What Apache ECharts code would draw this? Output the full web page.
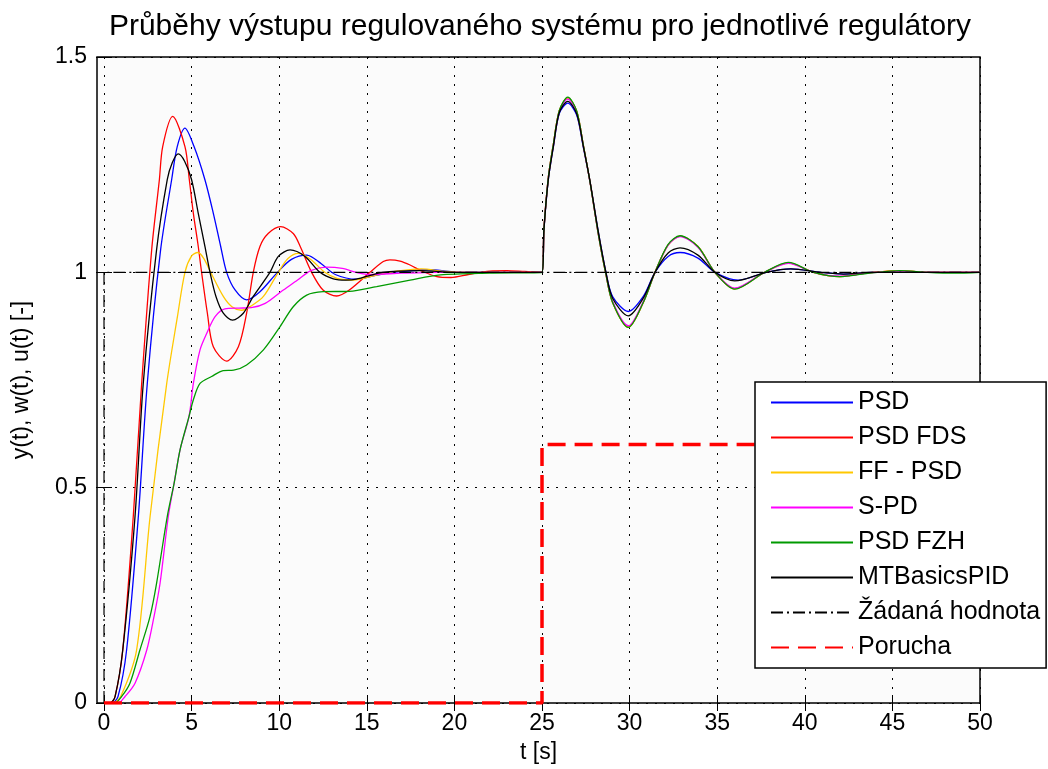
<!DOCTYPE html>
<html>
<head>
<meta charset="utf-8">
<script src="https://cdn.jsdelivr.net/npm/echarts@6/dist/echarts.min.js"></script>
<style>html,body{margin:0;padding:0;background:#fff;}#chart{width:1048px;height:769px;}</style>
</head>
<body>
<div id="chart"></div>
<script>
const titleText = 'Průběhy výstupu regulovaného systému pro jednotlivé regulátory';
const xTicks = [0, 5, 10, 15, 20, 25, 30, 35, 40, 45, 50];
const yTicks = [0, 0.5, 1, 1.5];
const seriesNames = ['PSD', 'PSD FDS', 'FF - PSD', 'S-PD', 'PSD FZH', 'MTBasicsPID', 'Žádaná hodnota', 'Porucha'];

const psd = [[0,0],[0.45,0],[0.8,0.015],[1.29,0.123],[1.96,0.433],[2.47,0.742],[3.23,1.052],[3.86,1.215],[4.18,1.292],[4.62,1.335],[5.14,1.292],[5.76,1.215],[6.24,1.137],[6.66,1.06],[7.0,1.0],[7.48,0.959],[8.14,0.936],[8.9,0.955],[9.9,1.0],[10.7,1.03],[11.57,1.04],[12.4,1.02],[13.2,0.995],[14.42,0.984],[15.5,0.993],[16.5,1.0],[18.5,1.006],[20.5,1.0],[25,1.0],
  [25.11,1.098],[25.36,1.215],[25.65,1.292],[25.99,1.369],[26.47,1.393],[26.98,1.365],[27.36,1.29],[27.74,1.21],[28.21,1.095],[28.65,1.0],[29.03,0.944],[29.93,0.909],[30.78,0.944],[31.45,1.0],[32.2,1.037],[32.88,1.046],[33.9,1.033],[34.87,1.0],[36.2,0.982],[37.8,1.0],[39.2,1.008],[40.9,1.0],[42.2,0.996],[43.8,1.0],[45.4,1.001],[47,1.0],[50,1.0]];

const psdFds = [[0,0],[0.35,0],[0.63,0.015],[1.07,0.123],[1.67,0.433],[2.15,0.742],[2.72,1.052],[3.16,1.215],[3.35,1.292],[3.92,1.362],[4.62,1.292],[4.87,1.215],[5.1,1.137],[5.38,1.06],[5.57,1.0],[5.9,0.905],[6.24,0.827],[7.0,0.794],[7.67,0.827],[8.14,0.905],[8.52,1.0],[8.9,1.06],[9.37,1.09],[10.08,1.106],[10.8,1.09],[11.2,1.06],[11.85,1.0],[12.5,0.959],[13.28,0.945],[14.0,0.959],[15.18,1.0],[15.94,1.025],[16.32,1.029],[16.9,1.026],[17.47,1.017],[18.2,1.002],[19.0,0.99],[19.8,0.988],[20.8,0.995],[22.0,1.003],[23.0,1.004],[24.0,1.002],[25,1.0],
  [25.11,1.1],[25.36,1.22],[25.65,1.298],[25.99,1.376],[26.47,1.405],[26.98,1.374],[27.36,1.295],[27.74,1.21],[28.21,1.09],[28.65,0.995],[29.03,0.93],[29.93,0.873],[30.78,0.93],[31.45,1.0],[32.2,1.064],[32.88,1.084],[33.9,1.06],[34.87,1.0],[36.0,0.962],[37.7,1.0],[39.06,1.022],[40.5,1.0],[42.0,0.99],[43.5,0.998],[45.4,1.004],[47,1.0],[50,1.0]];

const ffPsd = [[0,0],[0.5,0],[0.95,0.015],[1.86,0.123],[2.63,0.433],[3.58,0.742],[4.19,0.897],[4.62,1.0],[5.0,1.038],[5.35,1.046],[5.7,1.032],[6.09,1.0],[6.81,0.944],[7.3,0.92],[7.85,0.912],[8.4,0.922],[9.1,0.944],[9.95,1.0],[10.5,1.032],[11.09,1.044],[11.8,1.03],[12.6,1.0],[13.3,0.986],[14.23,0.982],[15.4,0.992],[16.6,1.002],[18.1,1.008],[19.5,1.002],[21,1.0],[25,1.0],
  [25.11,1.1],[25.36,1.22],[25.65,1.298],[25.99,1.376],[26.47,1.405],[26.98,1.374],[27.36,1.295],[27.74,1.21],[28.21,1.09],[28.65,0.995],[29.03,0.93],[29.93,0.872],[30.78,0.93],[31.45,1.0],[32.2,1.064],[32.88,1.084],[33.9,1.06],[34.87,1.0],[36.0,0.961],[37.7,1.0],[39.06,1.022],[40.5,1.0],[42.0,0.99],[43.5,0.998],[45.4,1.004],[47,1.0],[50,1.0]];

const sPd = [[0,0],[0.8,0],[1.2,0.015],[1.77,0.046],[2.44,0.123],[2.85,0.2],[3.2,0.278],[3.67,0.433],[4.0,0.51],[4.34,0.588],[4.85,0.665],[5.1,0.742],[5.48,0.82],[5.86,0.858],[6.34,0.897],[6.9,0.915],[7.7,0.917],[8.4,0.918],[9.2,0.928],[10.1,0.955],[11.05,0.982],[11.8,1.004],[12.7,1.012],[13.6,1.009],[14.5,0.999],[15.2,0.995],[17,0.998],[19,1.0],[25,1.0],
  [25.11,1.1],[25.36,1.22],[25.65,1.296],[25.99,1.374],[26.47,1.402],[26.98,1.372],[27.36,1.294],[27.74,1.21],[28.21,1.09],[28.65,0.996],[29.03,0.932],[29.93,0.876],[30.78,0.932],[31.45,1.0],[32.2,1.063],[32.88,1.083],[33.9,1.058],[34.87,1.0],[36.0,0.963],[37.7,1.0],[39.06,1.021],[40.5,1.0],[42.0,0.991],[43.5,0.998],[45.4,1.003],[47,1.0],[50,1.0]];

const psdFzh = [[0,0],[0.6,0],[1.0,0.015],[1.48,0.046],[2.05,0.123],[2.62,0.2],[3.0,0.278],[3.61,0.433],[4.0,0.51],[4.34,0.588],[4.85,0.665],[5.1,0.704],[5.48,0.742],[6.14,0.758],[6.8,0.772],[7.4,0.773],[8.14,0.785],[9.1,0.82],[10.05,0.874],[10.8,0.92],[11.57,0.947],[12.5,0.955],[14.0,0.956],[15.56,0.967],[17.47,0.982],[19.2,0.994],[22,0.998],[25,1.0],
  [25.11,1.1],[25.36,1.22],[25.65,1.298],[25.99,1.376],[26.47,1.407],[26.98,1.375],[27.36,1.295],[27.74,1.21],[28.21,1.09],[28.65,0.995],[29.03,0.93],[29.93,0.872],[30.78,0.93],[31.45,1.0],[32.2,1.065],[32.88,1.085],[33.9,1.06],[34.87,1.0],[36.0,0.961],[37.7,1.0],[39.06,1.023],[40.5,1.0],[42.0,0.99],[43.5,0.997],[45.4,1.004],[47,1.0],[48.5,0.998],[50,1.0]];

const mtBasics = [[0,0],[0.34,0],[0.63,0.015],[1.07,0.123],[1.77,0.433],[2.24,0.742],[3.0,1.052],[3.61,1.215],[3.9,1.255],[4.24,1.275],[4.6,1.258],[5.0,1.215],[5.38,1.137],[5.76,1.06],[6.05,1.0],[6.39,0.944],[6.81,0.905],[7.34,0.889],[7.95,0.905],[8.52,0.944],[9.47,1.0],[9.95,1.037],[10.62,1.052],[11.47,1.037],[12.33,1.0],[13.09,0.985],[13.8,0.982],[14.4,0.984],[15.9,1.0],[18.0,1.004],[20,1.0],[25,1.0],
  [25.11,1.098],[25.36,1.215],[25.65,1.292],[25.99,1.371],[26.47,1.397],[26.98,1.368],[27.36,1.292],[27.74,1.212],[28.21,1.095],[28.65,1.0],[29.03,0.94],[29.93,0.899],[30.78,0.94],[31.45,1.0],[32.2,1.045],[32.88,1.057],[33.9,1.04],[34.87,1.0],[36.0,0.98],[37.8,1.0],[39.2,1.008],[40.9,1.0],[42.2,0.996],[43.8,1.0],[47,1.0],[50,1.0]];

const setpoint = [[0,0],[0,1],[50,1]];
const disturbance = [[0,0],[25,0],[25,0.6],[50,0.6]];

const FONT = '"Liberation Sans", Arial, Helvetica, sans-serif';

function curve(name, data, color, width) {
  return {
    name: name, type: 'line', data: data, showSymbol: false, symbol: 'none',
    smooth: 0.3, clip: true,
    lineStyle: { color: color, width: width }, itemStyle: { color: color },
    emphasis: { disabled: true }
  };
}

const chart = echarts.init(document.getElementById('chart'), null, { renderer: 'canvas' });
const option = {
  backgroundColor: '#ffffff',
  animation: false,
  title: {
    text: titleText, left: 535, textAlign: 'center', top: 7,
    textStyle: { fontFamily: FONT, fontSize: 30, fontWeight: 'normal', color: '#000' }
  },
  grid: { left: 97, right: 68, top: 57, bottom: 66, show: true, backgroundColor: '#fbfbfb', borderColor: '#000', borderWidth: 1.5 },
  xAxis: [{
    type: 'value', min: -0.4, max: 50, position: 'bottom',
    axisLine: { show: false },
    axisTick: { show: true, inside: true, length: 8, customValues: xTicks, lineStyle: { color: '#000', width: 1 } },
    axisLabel: { customValues: xTicks, fontFamily: FONT, fontSize: 23, color: '#000', margin: 9 },
    splitLine: { show: true, lineStyle: { type: [2, 7], color: '#000', width: 1 } },
    name: 't [s]', nameLocation: 'middle', nameGap: 38,
    nameTextStyle: { fontFamily: FONT, fontSize: 23, color: '#000' }
  }, {
    type: 'value', min: -0.4, max: 50, position: 'top',
    axisLine: { show: false },
    axisTick: { show: true, inside: true, length: 8, customValues: xTicks, lineStyle: { color: '#000', width: 1 } },
    axisLabel: { show: false, customValues: xTicks },
    splitLine: { show: false }
  }],
  yAxis: [{
    type: 'value', min: 0, max: 1.5, interval: 0.5, position: 'left',
    axisLine: { show: false },
    axisTick: { show: true, inside: true, length: 8, lineStyle: { color: '#000', width: 1 } },
    axisLabel: { fontFamily: FONT, fontSize: 23, color: '#000', margin: 10 },
    splitLine: { show: true, lineStyle: { type: [2, 7], color: '#000', width: 1 } },
    name: 'y(t), w(t), u(t) [-]', nameLocation: 'middle', nameGap: 64,
    nameTextStyle: { fontFamily: FONT, fontSize: 23, color: '#000' }
  }, {
    type: 'value', min: 0, max: 1.5, interval: 0.5, position: 'right',
    axisLine: { show: false },
    axisTick: { show: true, inside: true, length: 8, lineStyle: { color: '#000', width: 1 } },
    axisLabel: { show: false },
    splitLine: { show: false }
  }],
  legend: {
    data: seriesNames, orient: 'vertical', left: 755, top: 382,
    padding: [8, 6, 8, 15], itemGap: 10, itemWidth: 82, itemHeight: 14,
    backgroundColor: '#ffffff', borderColor: '#000', borderWidth: 1.5, borderRadius: 0,
    itemStyle: { color: 'rgba(0,0,0,0)', borderWidth: 0, opacity: 0 },
    textStyle: { fontFamily: FONT, fontSize: 25, color: '#000' },
    selectedMode: false
  },
  series: [
    curve(seriesNames[0], psd, '#0000ff', 1.3),
    curve(seriesNames[1], psdFds, '#ff0000', 1.3),
    curve(seriesNames[2], ffPsd, '#ffc800', 1.3),
    curve(seriesNames[3], sPd, '#ff00ff', 1.3),
    curve(seriesNames[4], psdFzh, '#009a00', 1.3),
    curve(seriesNames[5], mtBasics, '#000000', 1.3),
    {
      name: seriesNames[6], type: 'line', data: setpoint, showSymbol: false, symbol: 'none',
      lineStyle: { color: '#000', width: 1.2, type: [12, 4, 2, 4] }, itemStyle: { color: '#000' },
      emphasis: { disabled: true }
    },
    {
      name: seriesNames[7], type: 'line', data: disturbance, showSymbol: false, symbol: 'none',
      lineStyle: { color: '#ff0000', width: 3.5, type: [18, 9] }, itemStyle: { color: '#ff0000' },
      emphasis: { disabled: true }
    }
  ]
};
chart.setOption(option);
</script>
</body>
</html>
